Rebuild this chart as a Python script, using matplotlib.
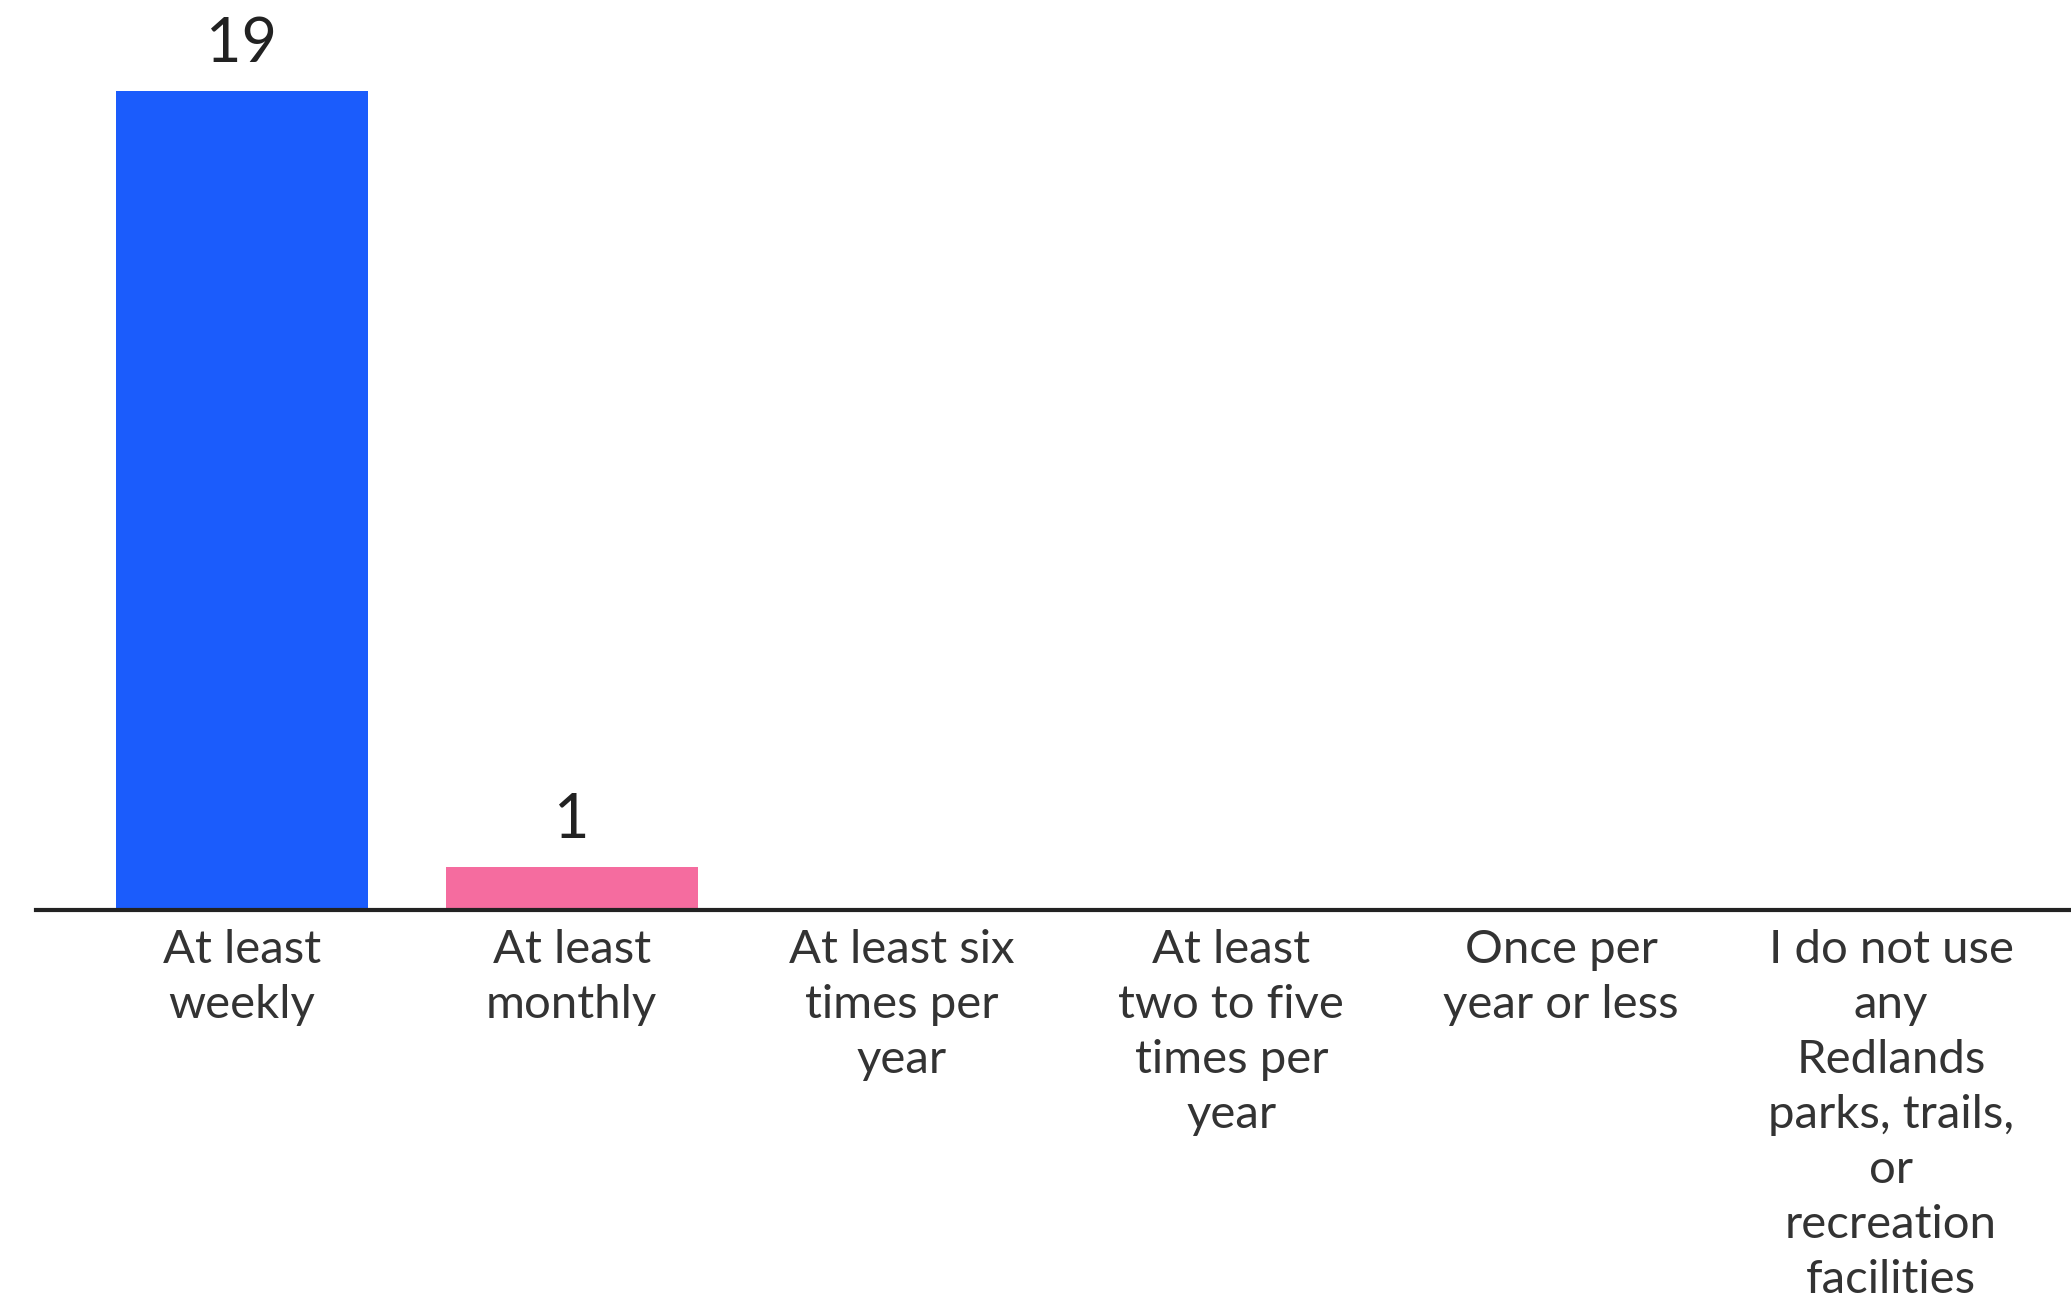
import matplotlib
matplotlib.use("Agg")
import matplotlib.pyplot as plt

categories = [
    "At least\nweekly",
    "At least\nmonthly",
    "At least six\ntimes per\nyear",
    "At least\ntwo to five\ntimes per\nyear",
    "Once per\nyear or less",
    "I do not use\nany\nRedlands\nparks, trails,\nor\nrecreation\nfacilities",
]
counts = [19, 1, 0, 0, 0, 0]
colors = ["#1B5CFC", "#F56C9F", "#1B5CFC", "#1B5CFC", "#1B5CFC", "#1B5CFC"]

W, H = 2071, 1306
fig = plt.figure(figsize=(W / 100, H / 100), dpi=100)
fig.patch.set_facecolor("white")

base_px = 910
left_px = 36
ax = fig.add_axes([left_px / W, 1 - base_px / H, 1 - left_px / W, base_px / H])

x = list(range(len(categories)))
bars = ax.bar(x, counts, width=0.764, color=colors, zorder=2)

ax.set_xlim(-206 / 330, 5 + 180 / 330)
ax.set_ylim(0, 19 * base_px / 819)

for xi, v in zip(x, counts):
    if v > 0:
        ax.annotate(str(v), (xi, v), xytext=(0, 13), textcoords="offset points",
                    ha="center", va="bottom", fontsize=44, color="#222222",
                    family=["Lato", "DejaVu Sans"])

ax.set_xticks(x)
ax.set_xticklabels(categories, fontsize=34, color="#333333",
                   family=["Lato", "DejaVu Sans"], linespacing=1.38)
ax.tick_params(axis="x", length=0, pad=14)
ax.set_yticks([])

for side in ["top", "right", "left"]:
    ax.spines[side].set_visible(False)
ax.spines["bottom"].set_linewidth(3)
ax.spines["bottom"].set_color("#222222")
ax.spines["bottom"].set_zorder(3)

fig.savefig("out.png", dpi=100, facecolor="white")
